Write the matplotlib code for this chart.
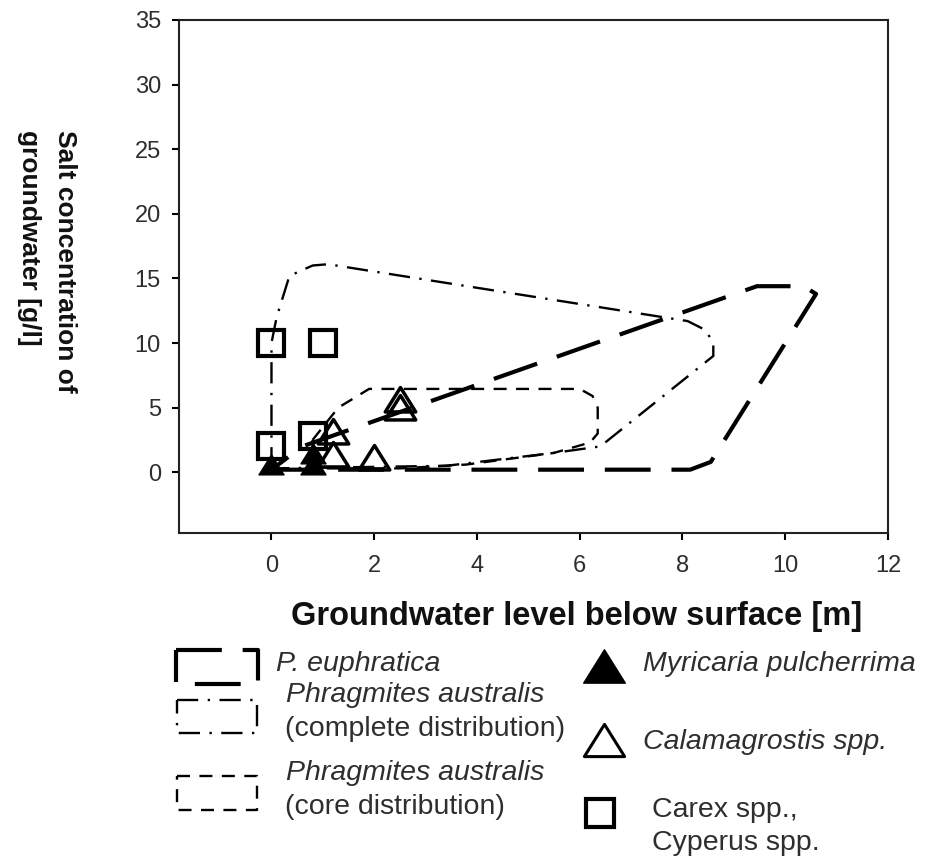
import matplotlib.pyplot as plt
from matplotlib.path import Path

plt.rcParams['font.family'] = ['Liberation Sans', 'DejaVu Sans']

# distribution envelopes (groundwater depth [m], salt [g/l])
euphratica_x = [0.0, 8.15, 8.55, 10.6, 10.35, 9.45, 0.6, 0.0]
euphratica_y = [0.2, 0.2, 0.8, 13.8, 14.4, 14.4, 2.0, 0.2]

phrag_complete_x = [0.0, 0.0, 0.1, 0.35, 0.8, 1.1, 8.1, 8.45, 8.6, 8.6, 6.4, 5.5, 3.4, 0.0]
phrag_complete_y = [0.3, 10.0, 12.0, 15.2, 16.0, 16.1, 11.7, 11.0, 10.0, 9.0, 2.0, 1.5, 0.5, 0.3]

phrag_core_x = [0.8, 1.3, 1.9, 6.0, 6.25, 6.35, 6.35, 6.2, 5.5, 3.8, 2.5, 0.8, 0.8]
phrag_core_y = [2.5, 5.0, 6.45, 6.45, 5.9, 5.0, 3.0, 2.3, 1.5, 0.6, 0.3, 0.3, 2.5]

# species occurrences
myricaria_x = [0.0, 0.8, 0.8]
myricaria_y = [0.6, 0.6, 1.4]

calamagrostis_x = [2.5, 2.5, 1.2, 1.2, 2.0]
calamagrostis_y = [5.0, 5.6, 3.1, 1.3, 1.1]

carex_x = [0.0, 1.0, 0.0, 0.8]
carex_y = [10.0, 10.0, 2.0, 2.8]

xticks = [0, 2, 4, 6, 8, 10, 12]
yticks = [0, 5, 10, 15, 20, 25, 30, 35]

txt = '#2e2e2e'
long_dash = dict(color='black', lw=3.0, dashes=(11, 5))
dash_dot = dict(color='black', lw=1.7, dashes=(9, 4, 1, 4))
short_dash = dict(color='black', lw=1.7, dashes=(5.5, 4))

# slightly squat triangle
tri = Path([(-1.0, -0.75), (1.0, -0.75), (0.0, 0.85), (-1.0, -0.75)],
           [Path.MOVETO, Path.LINETO, Path.LINETO, Path.CLOSEPOLY])

fig = plt.figure(figsize=(9.38, 8.64), dpi=100)
ax = fig.add_axes([179 / 938, 1 - 533 / 864, 709 / 938, 513 / 864])

ax.plot(euphratica_x, euphratica_y, solid_joinstyle='round', **long_dash)
ax.plot(phrag_complete_x, phrag_complete_y, **dash_dot)
ax.plot(phrag_core_x, phrag_core_y, **short_dash)

ax.plot(carex_x, carex_y, ls='none', marker='s', ms=19, mfc='none', mec='black', mew=3)
ax.plot(calamagrostis_x, calamagrostis_y, ls='none', marker=tri, ms=22, mfc='none', mec='black', mew=2.5)
ax.plot(myricaria_x, myricaria_y, ls='none', marker=tri, ms=18, mfc='black', mec='black')

ax.set_xlim(-1.8, 12)
ax.set_ylim(-4.7, 35)
ax.set_xticks(xticks)
ax.set_yticks(yticks)
ax.tick_params(direction='out', length=5, width=1.5, labelsize=17, labelcolor=txt)
ax.tick_params(axis='y', pad=8)
ax.tick_params(axis='x', pad=11)
for s in ax.spines.values():
    s.set_linewidth(1.5)
    s.set_color('#222222')

fig.text(577 / 938, 1 - 616 / 864, 'Groundwater level below surface [m]', ha='center', va='center',
         fontsize=23.5, fontweight='bold', color='#111111')
fig.text(47 / 938, 1 - 130 / 864, 'Salt concentration of\ngroundwater [g/l]', ha='center', va='top',
         rotation=-90, fontsize=19, fontweight='bold', color='#111111', linespacing=1.6,
         multialignment='left')

# legend drawn in pixel space below the axes
lg = fig.add_axes([0, 0, 1, 1])
lg.set_xlim(0, 938)
lg.set_ylim(864, 0)
lg.axis('off')


def box(x0, y0, x1, y1, style):
    lg.plot([x0, x1, x1, x0, x0], [y0, y0, y1, y1, y0], **style)


box(176, 650, 258, 684, long_dash)
box(177, 700, 257, 733, dash_dot)
box(177, 776, 257, 810, short_dash)

fs = 20.5
lg.text(276, 664, 'P. euphratica', fontsize=fs, style='italic', color=txt, va='center')
lg.text(286, 695, 'Phragmites australis', fontsize=fs, style='italic', color=txt, va='center')
lg.text(285, 729, '(complete distribution)', fontsize=fs, color=txt, va='center')
lg.text(286, 773, 'Phragmites australis', fontsize=fs, style='italic', color=txt, va='center')
lg.text(285, 807, '(core distribution)', fontsize=fs, color=txt, va='center')

lg.plot([604], [667], marker=tri, ms=30, mfc='black', mec='black')
lg.plot([604], [741], marker=tri, ms=29, mfc='none', mec='black', mew=2.2)
lg.plot([600], [813], marker='s', ms=20, mfc='none', mec='black', mew=3)

lg.text(643, 664, 'Myricaria pulcherrima', fontsize=fs, style='italic', color=txt, va='center')
lg.text(643, 742, 'Calamagrostis spp.', fontsize=fs, style='italic', color=txt, va='center')
lg.text(652, 810, 'Carex spp.,', fontsize=fs, color=txt, va='center')
lg.text(652, 843, 'Cyperus spp.', fontsize=fs, color=txt, va='center')

fig.savefig('out.png', dpi=100)
